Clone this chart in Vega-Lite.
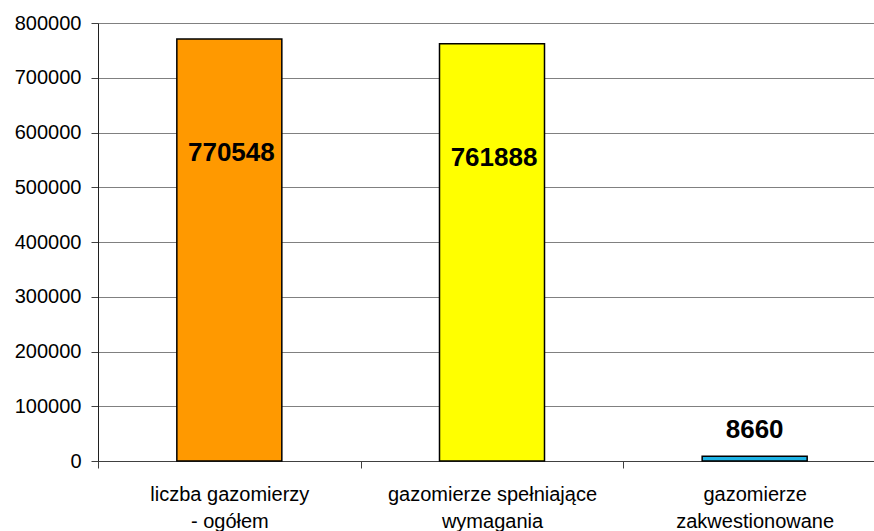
{
  "$schema": "https://vega.github.io/schema/vega-lite/v6.json",
  "width": 788,
  "height": 438,
  "autosize": "none",
  "padding": {"left": 98, "top": 23, "right": 0, "bottom": 70},
  "background": "white",
  "config": {"view": {"stroke": null}, "font": "Liberation Sans"},
  "data": {
    "values": [
      {"kategoria": "liczba gazomierzy|- ogółem", "liczba": 770548},
      {"kategoria": "gazomierze spełniające|wymagania", "liczba": 761888},
      {"kategoria": "gazomierze|zakwestionowane", "liczba": 8660}
    ]
  },
  "encoding": {
    "x": {
      "field": "kategoria",
      "type": "nominal",
      "sort": null,
      "scale": {"paddingInner": 0, "paddingOuter": 0},
      "axis": {
        "title": null,
        "labelAngle": 0,
        "labelExpr": "split(datum.label, '|')",
        "labelFontSize": 20,
        "labelColor": "black",
        "labelLineHeight": 27,
        "labelPadding": 16,
        "labelLimit": 0,
        "tickBand": "extent",
        "tickSize": 7,
        "tickColor": "#404040",
        "domainColor": "#404040",
        "grid": false
      }
    },
    "y": {
      "field": "liczba",
      "type": "quantitative",
      "scale": {"domain": [0, 800000], "nice": false},
      "axis": {
        "title": null,
        "values": [0, 100000, 200000, 300000, 400000, 500000, 600000, 700000, 800000],
        "format": "d",
        "labelFontSize": 20,
        "labelColor": "black",
        "labelPadding": 10,
        "tickSize": 7,
        "tickColor": "#404040",
        "domainColor": "#202020",
        "gridColor": "#808080",
        "grid": true
      }
    }
  },
  "layer": [
    {
      "mark": {"type": "bar", "size": 105, "stroke": "black", "strokeWidth": 1.5},
      "encoding": {
        "color": {
          "field": "kategoria",
          "type": "nominal",
          "sort": null,
          "scale": {"range": ["#FF9900", "#FFFF00", "#1EB4E6"]},
          "legend": null
        }
      }
    },
    {
      "transform": [{"filter": "datum.liczba > 100000"}],
      "mark": {"type": "text", "fontSize": 26, "fontWeight": "bold", "color": "black", "baseline": "middle", "dy": 114, "dx": 2},
      "encoding": {"text": {"field": "liczba", "type": "quantitative", "format": "d"}}
    },
    {
      "transform": [{"filter": "datum.liczba <= 100000"}],
      "mark": {"type": "text", "fontSize": 26, "fontWeight": "bold", "color": "black", "baseline": "middle", "dy": -26},
      "encoding": {"text": {"field": "liczba", "type": "quantitative", "format": "d"}}
    }
  ]
}
